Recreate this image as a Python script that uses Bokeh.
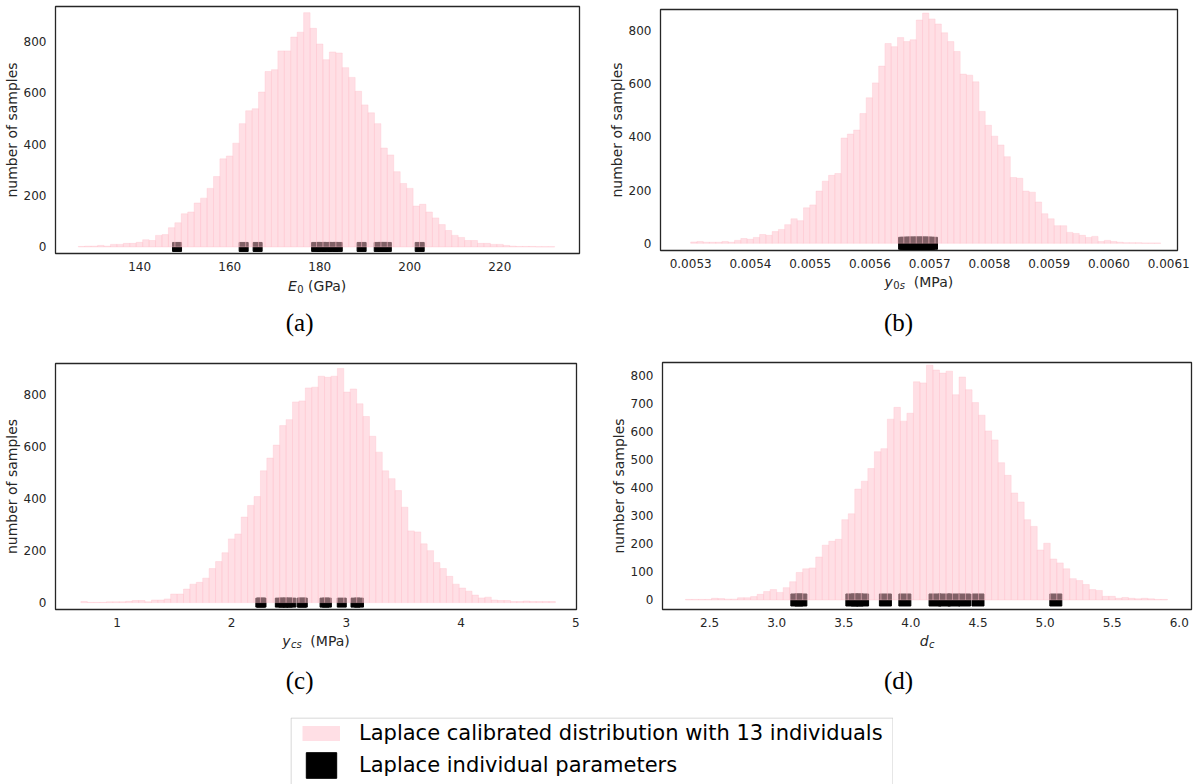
import numpy as np
from bokeh.plotting import figure
from bokeh.models import (Range1d, FixedTicker, PrintfTickFormatter, Label, Legend,
                          LegendItem, Spacer)
from bokeh.layouts import row, column
from bokeh.embed import file_html
from bokeh.resources import INLINE

# ---------------- data ----------------
# (a) E0 (GPa)
E0_counts = [2, 3, 3, 6, 3, 10, 10, 14, 14, 18, 28, 25, 45, 48, 75, 94, 129, 136, 171, 190,
             228, 274, 343, 354, 404, 480, 530, 538, 603, 683, 690, 763, 763, 817, 836, 912, 851, 790, 729, 759,
             755, 698, 660, 606, 553, 522, 480, 385, 358, 293, 247, 228, 159, 166, 136, 113, 87, 64, 45, 37,
             25, 25, 14, 14, 10, 10, 6, 3, 2, 2, 2, 1, 1, 1]
E0_lo, E0_hi = 126.36, 232.2
E0_ind = [148.3, 163.1, 166.2, 179.2, 180.4, 181.6, 183.0, 184.0, 189.3, 193.1, 194.0, 194.9, 202.2]
E0_xticks = [140, 160, 180, 200, 220]

# (b) y0s (MPa)
y0s_counts = [5, 7, 4, 4, 4, 7, 4, 11, 18, 15, 22, 33, 30, 44, 52, 70, 92, 85, 133, 144,
              196, 233, 255, 262, 395, 410, 425, 487, 546, 602, 665, 750, 738, 772, 757, 764, 838, 864, 842, 823,
              790, 757, 720, 635, 631, 606, 495, 443, 402, 369, 325, 247, 244, 196, 192, 155, 111, 92, 66, 66,
              41, 37, 30, 22, 26, 7, 11, 7, 4, 2, 2, 2, 1, 1, 1]
y0s_lo, y0s_hi = 0.0053, 0.0060866
y0s_ind = [0.005658, 0.005661, 0.005666, 0.005670, 0.005674, 0.005677, 0.005681, 0.005684,
           0.005687, 0.005691, 0.005694, 0.005698, 0.005703]
y0s_xticks = [0.0053, 0.0054, 0.0055, 0.0056, 0.0057, 0.0058, 0.0059, 0.0060, 0.0061]

# (c) ycs (MPa)
ycs_counts = [4, 1, 1, 1, 3, 3, 3, 5, 8, 8, 3, 10, 10, 14, 33, 33, 52, 71, 78, 94,
              131, 158, 192, 245, 264, 329, 374, 408, 507, 556, 606, 681, 704, 772, 776, 826, 829, 871, 867, 871,
              901, 810, 822, 765, 716, 640, 579, 507, 477, 431, 367, 276, 272, 226, 200, 154, 131, 101, 71, 56,
              44, 29, 18, 21, 10, 8, 8, 4, 4, 6, 4, 4, 4, 4]
ycs_lo, ycs_hi = 0.685, 4.823
ycs_ind = [2.25, 2.26, 2.42, 2.45, 2.49, 2.52, 2.61, 2.62, 2.81, 2.83, 2.96, 3.08, 3.11]
ycs_xticks = [1, 2, 3, 4, 5]

# (d) dc
dc_counts = [2, 2, 2, 2, 6, 5, 3, 3, 8, 8, 12, 20, 30, 37, 27, 44, 65, 98, 111, 114,
             153, 195, 209, 216, 286, 307, 395, 423, 468, 528, 539, 644, 686, 637, 665, 777, 773, 836, 819, 808,
             815, 731, 794, 749, 703, 658, 602, 570, 489, 444, 381, 349, 286, 262, 178, 202, 146, 132, 111, 76,
             69, 55, 37, 34, 13, 13, 6, 9, 6, 4, 6, 4, 2, 2]
dc_lo, dc_hi = 2.32, 5.912
dc_ind = [3.15, 3.18, 3.56, 3.60, 3.64, 3.81, 3.955, 4.18, 4.25, 4.32, 4.40, 4.50, 5.08]
dc_xticks = [2.5, 3.0, 3.5, 4.0, 4.5, 5.0, 5.5, 6.0]

y_ticks_main = [0, 200, 400, 600, 800]
y_ticks_dc = [0, 100, 200, 300, 400, 500, 600, 700, 800]

captions = ["(a)", "(b)", "(c)", "(d)"]
legend_labels = ["Laplace calibrated distribution with 13 individuals",
                 "Laplace individual parameters"]

TXT = "#262626"
FONT = "DejaVu Sans"
SERIF = "Liberation Serif"
CAP_SIZE = 25


def panel(counts, lo, hi, ind, xr, yr, xticks, yticks, fmt, msize, w, h, ml, mr, mt, mb):
    p = figure(width=w, height=h, x_range=Range1d(*xr), y_range=Range1d(*yr),
               output_backend="svg", toolbar_location=None,
               min_border_left=ml, min_border_right=mr, min_border_top=mt, min_border_bottom=mb)
    edges = np.linspace(lo, hi, len(counts) + 1)
    p.scatter(ind, [0] * len(ind), marker="square", size=msize,
              fill_color="black", line_color="black")
    p.quad(left=edges[:-1], right=edges[1:], bottom=0, top=counts,
           fill_color="pink", fill_alpha=0.5, line_color="pink", line_alpha=0.35, line_width=1)
    p.xgrid.visible = False
    p.ygrid.visible = False
    p.outline_line_color = TXT
    p.outline_line_width = 1.3
    p.background_fill_color = "white"
    p.border_fill_color = "white"
    for ax in (p.xaxis[0], p.yaxis[0]):
        ax.axis_line_color = None
        ax.major_tick_line_color = None
        ax.minor_tick_line_color = None
        ax.major_label_text_font = FONT
        ax.major_label_text_font_size = "12px"
        ax.major_label_text_color = TXT
    p.xaxis.ticker = FixedTicker(ticks=xticks)
    p.xaxis.formatter = PrintfTickFormatter(format=fmt)
    p.xaxis.major_label_standoff = 2
    p.yaxis.ticker = FixedTicker(ticks=yticks)
    p.yaxis.formatter = PrintfTickFormatter(format="%d")
    p.yaxis.major_label_standoff = 3
    p.yaxis.axis_label = "number of samples"
    p.yaxis.axis_label_text_font = FONT
    p.yaxis.axis_label_text_font_size = "14px"
    p.yaxis.axis_label_text_font_style = "normal"
    p.yaxis.axis_label_text_color = TXT
    p.yaxis.axis_label_standoff = 1
    return p


def capfig(w, h, ml, mr):
    # caption strip whose frame lines up with the panel frame above it;
    # its x range is expressed in pixels from the strip's left edge
    c = figure(width=w, height=h, x_range=Range1d(ml, w - mr), y_range=Range1d(h, 0),
               output_backend="svg", toolbar_location=None,
               min_border_left=ml, min_border_right=mr, min_border_top=0, min_border_bottom=0,
               x_axis_location=None, y_axis_location=None)
    c.xgrid.visible = False
    c.ygrid.visible = False
    c.outline_line_color = None
    return c


def put(c, txt, x, y, size, style="normal", font=FONT, align="left",
        baseline="alphabetic", color=TXT):
    c.add_layout(Label(x=x, y=y, text=txt, text_font=font, text_font_size=f"{size}px",
                       text_font_style=style, text_align=align, text_baseline=baseline,
                       text_color=color))


# (a)
pa = panel(E0_counts, E0_lo, E0_hi, E0_ind, (121.3, 237.7), (-25.5, 936),
           E0_xticks, y_ticks_main, "%d", 9, 600, 273, 51, 21, 6, 16)
ca = capfig(600, 84, 51, 21)
put(ca, "E", 285.3, 12, 14, "italic")
put(ca, "0", 294.6, 15, 10)
put(ca, "(GPa)", 305.5, 12, 14)
put(ca, captions[0], 297, 49, CAP_SIZE, font=SERIF, align="center", baseline="middle", color="black")

# (b)
pb = panel(y0s_counts, y0s_lo, y0s_hi, y0s_ind, (0.0052495, 0.0061147), (-27, 877.5),
           y0s_xticks, y_ticks_main, "%.4f", 12, 599, 270, 60, 22, 9, 16)
cb = capfig(599, 87, 60, 22)
put(cb, "y", 284, 11.5, 14, "italic")
put(cb, "0", 292.8, 14.5, 10)
put(cb, "s", 299.2, 14.5, 10, "italic")
put(cb, "(MPa)", 313.3, 11.5, 14)
put(cb, captions[1], 298, 52, CAP_SIZE, font=SERIF, align="center", baseline="middle", color="black")

# (c)
pc = panel(ycs_counts, ycs_lo, ycs_hi, ycs_ind, (0.4636, 5.007), (-26.5, 920),
           ycs_xticks, y_ticks_main, "%d", 9, 600, 272, 51, 24, 6, 16)
cc = capfig(600, 88, 51, 24)
put(cc, "y", 279.4, 11.5, 14, "italic")
put(cc, "cs", 288.2, 14.5, 10, "italic")
put(cc, "(MPa)", 307.8, 11.5, 14)
put(cc, captions[2], 297, 51, CAP_SIZE, font=SERIF, align="center", baseline="middle", color="black")

# (d)
pd_ = panel(dc_counts, dc_lo, dc_hi, dc_ind, (2.149, 6.091), (-33.9, 845.8),
            dc_xticks, y_ticks_dc, "%.1f", 12, 599, 272, 62, 8, 5, 16)
cd = capfig(599, 88, 62, 8)
put(cd, "d", 319.3, 11.8, 14, "italic")
put(cd, "c", 328.5, 14.8, 10, "italic")
put(cd, captions[3], 298, 51, CAP_SIZE, font=SERIF, align="center", baseline="middle", color="black")

# ---------------- legend strip ----------------
LW, LH = 603, 67
pl = figure(width=LW, height=LH, x_range=Range1d(0, LW), y_range=Range1d(0, LH),
            output_backend="svg", toolbar_location=None, min_border=0,
            x_axis_location=None, y_axis_location=None)
pl.xgrid.visible = False
pl.ygrid.visible = False
pl.outline_line_color = None
pl.line(x=[0.5, 0.5, LW - 0.5, LW - 0.5], y=[-5, LH - 0.5, LH - 0.5, -5],
        line_color="#cccccc", line_width=1)
r_pink = pl.line(x=np.array([np.nan]), y=np.array([np.nan]), line_color="pink",
                 line_alpha=0.5, line_width=15)
r_black = pl.quad(left=np.array([np.nan]), right=np.array([np.nan]),
                  top=np.array([np.nan]), bottom=np.array([np.nan]),
                  fill_color="black", line_color="black")
leg = Legend(items=[LegendItem(label=legend_labels[0], renderers=[r_pink]),
                    LegendItem(label=legend_labels[1], renderers=[r_black])],
             location=(12, 3), orientation="vertical", glyph_width=38, glyph_height=32,
             spacing=0, padding=0, margin=0, label_standoff=19,
             label_text_font=FONT, label_text_font_size="21px", label_text_color="black",
             border_line_color=None, background_fill_alpha=0)
pl.add_layout(leg)

layout = column(row(column(pa, ca), column(pb, cb)),
                row(column(pc, cc), column(pd_, cd)),
                row(Spacer(width=290, height=LH), pl))

open("out.html", "w").write(file_html(layout, INLINE))
